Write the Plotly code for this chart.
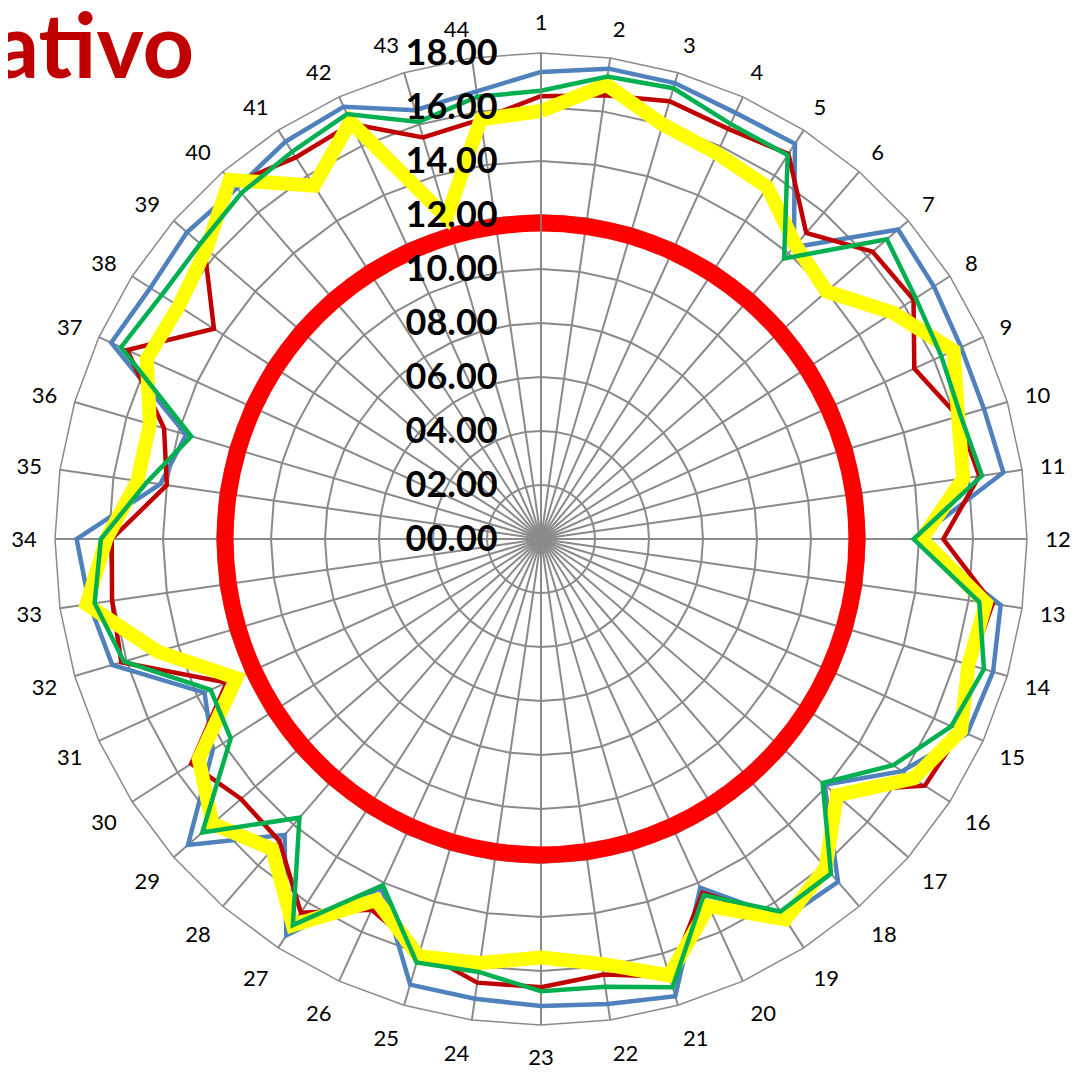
import plotly.graph_objects as go

categories = [str(i) for i in range(1, 45)]

blue_vals = [17.3, 17.6, 17.6, 17.35, 17.4, 14.3, 17.5, 17.3, 17.1, 17.1, 17.3, 13.9,
             17.2, 17.45, 17.35, 15.9, 13.9, 16.8, 16.7, 14.2, 17.65, 17.4, 17.3, 17.2,
             17.2, 14.2, 17.45, 14.5, 17.3, 14.45, 13.7, 16.55, 16.9, 17.2, 14.25, 13.7,
             17.5, 17.2, 17.35, 17.2, 17.5, 17.6, 16.55, 16.75]

red_vals = [16.4, 16.6, 16.9, 16.7, 16.95, 15.0, 16.25, 16.4, 15.2, 16.1, 16.4, 14.9,
            16.9, 16.6, 17.1, 16.9, 14.3, 16.3, 16.7, 14.4, 16.9, 16.3, 16.6, 16.6,
            15.9, 15.1, 16.45, 14.8, 14.7, 15.4, 12.8, 16.2, 16.05, 15.9, 14.0, 14.55,
            16.85, 14.4, 16.5, 17.4, 16.8, 16.9, 15.5, 15.7]

green_vals = [16.6, 17.3, 17.4, 16.9, 16.9, 13.75, 16.95, 16.5, 16.3, 16.2, 16.5, 13.8,
              16.4, 17.1, 16.7, 15.5, 13.8, 16.4, 16.4, 14.5, 17.3, 16.75, 16.75, 16.2,
              16.35, 14.1, 17.0, 13.66, 16.6, 13.66, 13.45, 16.1, 16.7, 16.3, 14.75, 13.5,
              17.1, 16.7, 16.7, 16.95, 17.05, 17.3, 16.1, 16.55]

yellow_vals = [15.85, 17.0, 16.0, 15.7, 15.5, 14.4, 14.0, 15.5, 16.8, 16.1, 15.8, 14.1,
               16.65, 16.5, 17.1, 16.4, 14.5, 16.1, 16.75, 14.95, 16.85, 15.9, 15.5, 15.86,
               16.1, 14.7, 17.0, 15.2, 16.1, 15.07, 12.4, 14.8, 17.0, 16.1, 15.1, 15.1,
               16.05, 15.95, 16.4, 17.6, 15.55, 17.0, 12.4, 15.7]

limit_vals = [11.7, 11.7, 11.7, 11.7, 11.7, 11.7, 11.7, 11.7, 11.7, 11.7, 11.7, 11.7,
              11.7, 11.7, 11.7, 11.7, 11.7, 11.7, 11.7, 11.7, 11.7, 11.7, 11.7, 11.7,
              11.7, 11.7, 11.7, 11.7, 11.7, 11.7, 11.7, 11.7, 11.7, 11.7, 11.7, 11.7,
              11.7, 11.7, 11.7, 11.7, 11.7, 11.7, 11.7, 11.7]

title_text = "Comparativo"

W, H = 1082, 1072
OFF = 8  # page body margin offset


def closed(vals):
    return list(vals) + [vals[0]]


theta = closed(categories)

fig = go.Figure()

fig.add_trace(go.Scatterpolar(r=closed(limit_vals), theta=theta, mode="lines",
                              line=dict(color="#FF0000", width=17, shape="spline"),
                              name="limit", showlegend=False))
fig.add_trace(go.Scatterpolar(r=closed(blue_vals), theta=theta, mode="lines",
                              line=dict(color="#4F81BD", width=4.5),
                              name="blue", showlegend=False))
fig.add_trace(go.Scatterpolar(r=closed(red_vals), theta=theta, mode="lines",
                              line=dict(color="#C00000", width=4.5),
                              name="red", showlegend=False))
fig.add_trace(go.Scatterpolar(r=closed(yellow_vals), theta=theta, mode="lines",
                              line=dict(color="#FFFF00", width=14),
                              name="yellow", showlegend=False))
fig.add_trace(go.Scatterpolar(r=closed(green_vals), theta=theta, mode="lines",
                              line=dict(color="#00B050", width=4.5),
                              name="green", showlegend=False))

grid = "#8A8A8A"

fig.update_layout(
    width=W, height=H,
    margin=dict(l=0, r=0, t=0, b=0),
    paper_bgcolor="white",
    plot_bgcolor="white",
    showlegend=False,
    polar=dict(
        domain=dict(x=[(55 - OFF) / W, (1027 - OFF) / W],
                    y=[1 - (1025 - OFF) / H, 1 - (53 - OFF) / H]),
        bgcolor="white",
        gridshape="linear",
        angularaxis=dict(
            type="category",
            categoryorder="array",
            categoryarray=categories,
            rotation=90,
            direction="clockwise",
            showline=True,
            linecolor=grid,
            linewidth=1.5,
            gridcolor=grid,
            gridwidth=1.5,
            ticks="outside",
            ticklen=13,
            tickcolor="rgba(0,0,0,0)",
            tickfont=dict(family="Lato", size=22, color="black"),
        ),
        radialaxis=dict(
            range=[0, 18],
            dtick=2,
            tick0=0,
            angle=90,
            tickangle=90,
            side="counterclockwise",
            showline=True,
            linecolor=grid,
            linewidth=1.5,
            gridcolor=grid,
            gridwidth=1.5,
            tickformat="05.2f",
            ticks="outside",
            ticklen=30,
            tickcolor="rgba(0,0,0,0)",
            tickfont=dict(family="Lato", size=36, color="black", weight="bold"),
        ),
    ),
    annotations=[dict(
        text=title_text, xref="paper", yref="paper",
        x=(196 - OFF) / W, y=1 - 35 / H, xanchor="right", yanchor="middle",
        showarrow=False,
        font=dict(family="Lato", size=90, color="#C00000", weight="bold"),
    )],
)

fig.write_html("out.html")
